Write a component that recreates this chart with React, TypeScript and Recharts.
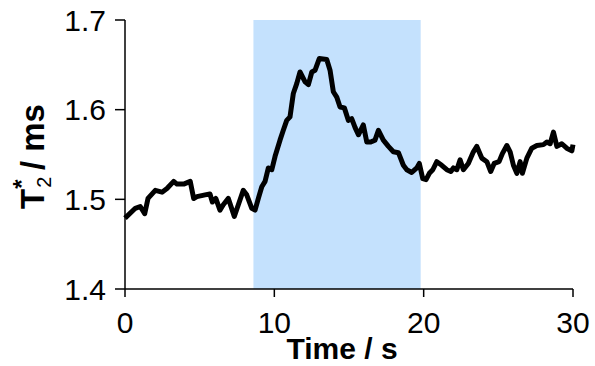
import { LineChart, Line, XAxis, YAxis, ReferenceArea } from "recharts";

const FONT = "'Liberation Sans', Arial, Helvetica, sans-serif";

// time (s) and T2* (ms)
const times = [
  0, 0.69, 1.02, 1.32, 1.54, 2.03, 2.48, 2.81, 3.26, 3.48, 3.93, 4.37, 4.6, 4.82,
  5.36, 5.69, 5.85, 6.08, 6.36, 6.58, 6.92, 7.32, 7.59, 7.92, 8.15, 8.49, 8.71,
  8.93, 9.16, 9.38, 9.6, 9.83, 10.05, 10.38, 10.6, 10.83, 11.05, 11.27, 11.5,
  11.72, 12.06, 12.28, 12.51, 12.73, 13.01, 13.51, 13.73, 13.95, 14.18, 14.4,
  14.69, 14.96, 15.18, 15.41, 15.63, 15.96, 16.19, 16.46, 16.74, 16.97, 17.3,
  17.64, 17.97, 18.31, 18.64, 18.87, 19.2, 19.54, 19.71, 19.94, 20.16, 20.38,
  20.61, 20.88, 21.21, 21.55, 21.82, 21.99, 22.22, 22.44, 22.66, 22.99, 23.33,
  23.56, 23.89, 24.23, 24.49, 24.72, 25.05, 25.27, 25.57, 25.79, 26.01, 26.24,
  26.46, 26.61, 26.91, 27.24, 27.58, 28.02, 28.25, 28.47, 28.69, 28.92, 29.25,
  29.58, 29.92, 30,
];
const t2star = [
  1.479, 1.49, 1.492, 1.484, 1.501, 1.51, 1.508, 1.512, 1.52, 1.517, 1.517, 1.52,
  1.501, 1.503, 1.505, 1.506, 1.497, 1.501, 1.488, 1.494, 1.501, 1.481, 1.494,
  1.51, 1.505, 1.49, 1.488, 1.501, 1.514, 1.52, 1.535, 1.533, 1.548, 1.566,
  1.577, 1.588, 1.592, 1.618, 1.629, 1.642, 1.631, 1.628, 1.642, 1.644, 1.657,
  1.656, 1.644, 1.62, 1.614, 1.603, 1.602, 1.588, 1.59, 1.58, 1.572, 1.583,
  1.564, 1.564, 1.566, 1.577, 1.566, 1.559, 1.553, 1.552, 1.538, 1.533, 1.53,
  1.535, 1.54, 1.523, 1.522, 1.529, 1.533, 1.542, 1.538, 1.533, 1.531, 1.535,
  1.533, 1.544, 1.533, 1.54, 1.553, 1.559, 1.546, 1.542, 1.531, 1.54, 1.542,
  1.551, 1.56, 1.553, 1.538, 1.529, 1.542, 1.529, 1.546, 1.557, 1.56, 1.561,
  1.564, 1.562, 1.575, 1.559, 1.562, 1.557, 1.554, 1.561,
];
const xTicks = [0, 10, 20, 30];
const yTicks = [1.4, 1.5, 1.6, 1.7];
const stimStart = 8.6;
const stimEnd = 19.8;

const data = times.map((t, i) => ({ t, v: t2star[i] }));

const YTitle = (props: any) => {
  const vb = props.viewBox || { y: 20, height: 269 };
  const cy = vb.y + vb.height / 2 + 2;
  return (
    <g transform={`translate(44, ${cy}) rotate(-90)`}>
      <text
        textAnchor="middle"
        fontFamily={FONT}
        fontWeight="bold"
        fontSize={33}
        fill="#000"
      >
        <tspan>T</tspan>
        <tspan fontSize={20} fontWeight="normal" dx={1} dy={7}>2</tspan>
        <tspan fontSize={24} dx={-12} dy={-21}>*</tspan>
        <tspan dy={14}> / ms</tspan>
      </text>
    </g>
  );
};

const XTitle = (props: any) => {
  const vb = props.viewBox || { x: 125, width: 448 };
  return (
    <text
      x={vb.x + vb.width / 2 - 7}
      y={359}
      textAnchor="middle"
      fontFamily={FONT}
      fontWeight="bold"
      fontSize={30}
      fill="#000"
    >
      Time / s
    </text>
  );
};

export default function App() {
  return (
    <div style={{ position: "absolute", left: 0, top: 0, background: "#fff" }}>
      <LineChart
        width={595}
        height={366}
        data={data}
        margin={{ top: 20, right: 22, bottom: 0, left: 0 }}
      >
        <ReferenceArea
          x1={stimStart}
          x2={stimEnd}
          y1={1.4}
          y2={1.7}
          fill="#c4e1fd"
          fillOpacity={1}
          stroke="none"
        />
        <XAxis
          dataKey="t"
          type="number"
          domain={[0, 30]}
          ticks={xTicks}
          height={77}
          axisLine={{ stroke: "#000", strokeWidth: 1.5 }}
          tickLine={{ stroke: "#000", strokeWidth: 1.5 }}
          tickSize={8}
          tickMargin={15}
          tick={{ fill: "#000", fontSize: 30, fontFamily: FONT }}
          label={{ content: XTitle }}
        />
        <YAxis
          type="number"
          domain={[1.4, 1.7]}
          ticks={yTicks}
          width={125}
          axisLine={{ stroke: "#000", strokeWidth: 1.5 }}
          tickLine={{ stroke: "#000", strokeWidth: 1.5 }}
          tickSize={10}
          tickMargin={9}
          tickFormatter={(v: number) => v.toFixed(1)}
          tick={{ fill: "#000", fontSize: 30, fontFamily: FONT }}
          label={{ content: YTitle }}
        />
        <Line
          type="linear"
          dataKey="v"
          stroke="#000"
          strokeWidth={5}
          strokeLinejoin="round"
          dot={false}
          activeDot={false}
          isAnimationActive={false}
        />
      </LineChart>
    </div>
  );
}
